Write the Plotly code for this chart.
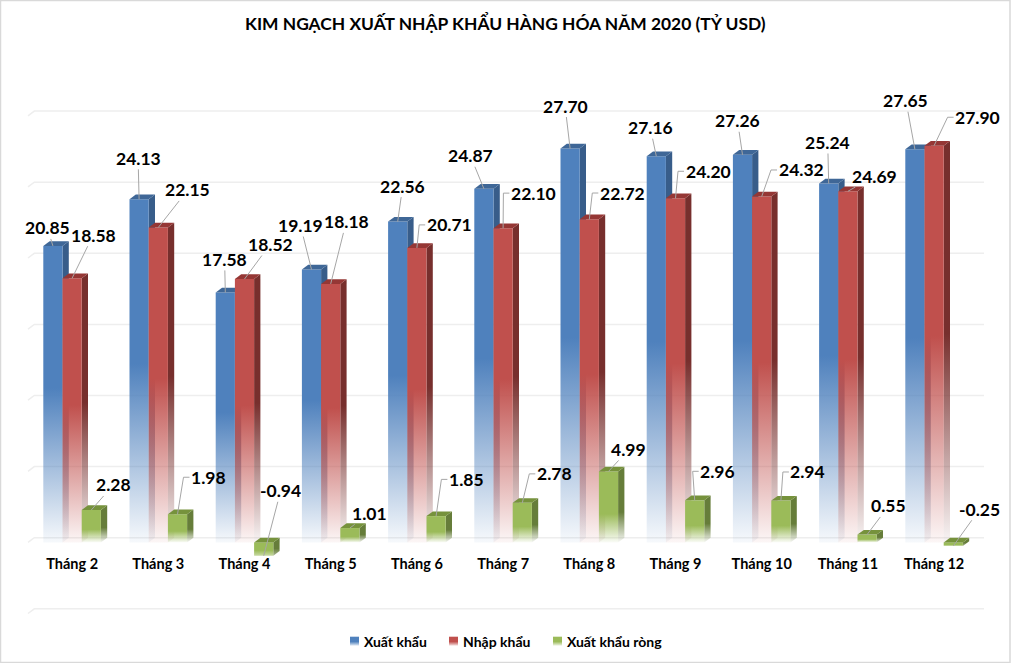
import plotly.graph_objects as go

MONTHS = ["Tháng 2", "Tháng 3", "Tháng 4", "Tháng 5", "Tháng 6", "Tháng 7",
          "Tháng 8", "Tháng 9", "Tháng 10", "Tháng 11", "Tháng 12"]
XUAT_KHAU = [20.85, 24.13, 17.58, 19.19, 22.56, 24.87, 27.70, 27.16, 27.26, 25.24, 27.65]
NHAP_KHAU = [18.58, 22.15, 18.52, 18.18, 20.71, 22.10, 22.72, 24.20, 24.32, 24.69, 27.90]
XUAT_KHAU_RONG = [2.28, 1.98, -0.94, 1.01, 1.85, 2.78, 4.99, 2.96, 2.94, 0.55, -0.25]
SERIES_NAMES = ["Xuất khẩu", "Nhập khẩu", "Xuất khẩu ròng"]
GRID_VALUES = [-5, 0, 5, 10, 15, 20, 25, 30]
TITLE = "KIM NGẠCH XUẤT NHẬP KHẨU HÀNG HÓA NĂM 2020 (TỶ USD)"

# ---- layout (pixels of the 1011x663 page) ----
W, H = 1011, 663
PX_X, PX_Y = 86.2, 14.22      # pixels per category / per value unit
X0_PX, Y0_PX = 72.1, 542.4    # pixel of first category centre / of value 0
BAR_W = 19.2 / PX_X
DX, DY = 6.3 / PX_X, 4.7 / PX_Y
FONT = "Lato, 'Noto Sans', sans-serif"

FRONT = ["#4f81bd", "#c0504d", "#9bbb59"]
SIDE = ["#385d8a", "#772f2d", "#667d3a"]
TOPF = ["#3f6797", "#953735", "#76923c"]
FADE_START = [0.48, 0.48, 0.6]
LEGEND_SWATCH_PX = [350, 449, 553]
LEGEND_TEXT_PX = [362, 461, 565]

# label offsets from the bar's front-top centre (px), and whether the leader has an elbow
LABEL_OFF = [
    [(-5.5, -18), (-1, -41), (-0.7, -33), (-11, -44), (5, -35.5), (-13.5, -33), (-5, -42.5),
     (-6, -28.5), (-5, -34), (-1, -41), (-9, -48.5)],
    [(21, -43), (29.5, -37.5), (25.5, -34.5), (15.5, -62), (32.3, -23), (30.3, -35), (33, -26.3),
     (32.5, -27), (39.3, -26.6), (26.7, -15.3), (43.5, -28.4)],
    [(22, -25), (31, -37), (17, -65), (19.3, -14.7), (30.3, -36.7), (32, -29), (20.2, -22),
     (23, -29), (27, -28.6), (21.5, -28.6), (26.4, -36.7)],
]
ELBOW = [
    [0] * 11,
    [0, 0, 0, 0, 1, 1, 1, 1, 1, 0, 1],
    [0, 1, 0, 0, 1, 1, 0, 1, 1, 0, 0],
]

fig = go.Figure()
series = [XUAT_KHAU, NHAP_KHAU, XUAT_KHAU_RONG]


def rgba(c, a):
    return f"rgba({int(c[1:3], 16)},{int(c[3:5], 16)},{int(c[5:7], 16)},{a})"


def poly(xs, ys, c0, top=None, bot=None, stop=0.5, end_alpha=0.05, name=None):
    kw = dict(x=xs, y=ys, mode="lines", fill="toself", line=dict(width=0),
              showlegend=False, hoverinfo="skip", name=name)
    if top is None:
        kw["fillcolor"] = c0
    else:
        kw["fillgradient"] = dict(type="vertical", start=top, stop=bot,
                                  colorscale=[[0, c0], [stop, c0], [1, rgba(c0, end_alpha)]])
    fig.add_trace(go.Scatter(**kw))


# gridlines sit on the back wall, with a short diagonal on the left end
gx, gy = [], []
for g in GRID_VALUES:
    gx += [(28 - X0_PX) / PX_X, (28 - X0_PX) / PX_X + DX, (984 - X0_PX) / PX_X, None]
    gy += [g, g + DY, g + DY, None]
fig.add_trace(go.Scatter(x=gx, y=gy, mode="lines", line=dict(color="#eeeeee", width=1.5),
                         showlegend=False, hoverinfo="skip"))

for i in range(len(MONTHS)):
    for k, vals in enumerate(series):
        v = vals[i]
        x0 = i + (k - 1.5) * BAR_W
        x1 = x0 + BAR_W
        top, bot = max(v, 0), min(v, 0)
        end = 0.05 if v >= 0 else 0.55
        poly([x1, x1 + DX, x1 + DX, x1, x1], [top, top + DY, bot + DY, bot, top],
             SIDE[k], top + DY, bot, FADE_START[k], end)
        poly([x0, x1, x1, x0, x0], [top, top, bot, bot, top],
             FRONT[k], top, bot, FADE_START[k], end)
        poly([x0, x1, x1 + DX, x0 + DX, x0], [top, top, top + DY, top + DY, top], TOPF[k])

# leaders + labels
HALF = [(24, 11), (24, 11), (19, 11)]
annotations = []
for k, vals in enumerate(series):
    for i, v in enumerate(vals):
        cx = i + (k - 1) * BAR_W
        ox, oy = LABEL_OFF[k][i]
        hw, hh = HALF[k]
        if v < 0:
            hw += 2
        if ELBOW[k][i]:
            pts = [(0, 0), (ox - hw - 6, oy), (ox - hw, oy)]
        else:
            t = max(1 - min(hw / max(abs(ox), 0.01), hh / max(abs(oy), 0.01)), 0)
            pts = [(0, 0), (ox * t, oy * t)]
        fig.add_trace(go.Scatter(x=[cx + p[0] / PX_X for p in pts],
                                 y=[v - p[1] / PX_Y for p in pts],
                                 mode="lines", line=dict(color="#a6a6a6", width=1),
                                 showlegend=False, hoverinfo="skip"))
        annotations.append(dict(x=cx, y=v, xref="x", yref="y", text=f"{v:.2f}", showarrow=False,
                                xshift=ox, yshift=-oy, xanchor="center", yanchor="middle",
                                font=dict(family=FONT, size=17.5, color="#000000", weight=700)))

annotations.append(dict(x=505 / W, y=1 - 23 / H, xref="paper", yref="paper", text=TITLE,
                        showarrow=False, xanchor="center", yanchor="middle",
                        font=dict(family=FONT, size=17.4, color="#000000", weight=700)))

# legend row
for k, name in enumerate(SERIES_NAMES):
    lx0 = (LEGEND_SWATCH_PX[k] - X0_PX) / PX_X
    lx1 = lx0 + 9 / PX_X
    ly0 = (Y0_PX - 636.7) / PX_Y
    ly1 = (Y0_PX - 645.7) / PX_Y
    poly([lx0, lx1, lx1, lx0, lx0], [ly0, ly0, ly1, ly1, ly0], FRONT[k], ly0, ly1, 0.55, 0.15, name=name)
    annotations.append(dict(x=LEGEND_TEXT_PX[k] / W, y=1 - 641 / H, xref="paper", yref="paper",
                            text=name, showarrow=False, xanchor="left", yanchor="middle",
                            font=dict(family=FONT, size=14, color="#000000", weight=700)))

fig.update_layout(
    width=W, height=H, margin=dict(l=0, r=0, t=0, b=0, pad=0),
    paper_bgcolor="#ffffff", plot_bgcolor="#ffffff",
    annotations=annotations,
    hovermode=False, showlegend=False,
    xaxis=dict(range=[-X0_PX / PX_X, (W - X0_PX) / PX_X], tickmode="array",
               tickvals=list(range(len(MONTHS))), ticktext=MONTHS,
               tickfont=dict(family=FONT, size=14.5, color="#000000", weight=700),
               anchor="free", position=(H - Y0_PX) / H, side="bottom",
               ticks="outside", ticklen=8, tickcolor="rgba(0,0,0,0)",
               showgrid=False, zeroline=False, showline=False, fixedrange=True),
    yaxis=dict(range=[(Y0_PX - H) / PX_Y, Y0_PX / PX_Y], visible=False, fixedrange=True),
    shapes=[dict(type="rect", xref="paper", yref="paper", x0=0.5 / W, x1=1010 / W,
                 y0=0.5 / H, y1=1 - 0.5 / H, line=dict(color="#d9d9d9", width=1.5))],
)

fig.write_html("out.html", config={"displayModeBar": False},
               post_script="document.body.style.margin='0';")
